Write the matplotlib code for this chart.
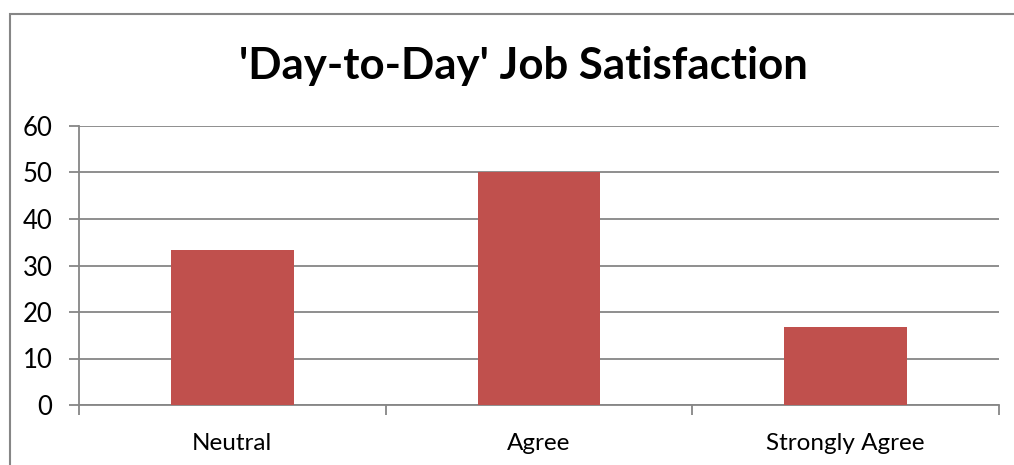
import matplotlib
matplotlib.use('Agg')
import matplotlib.pyplot as plt
from matplotlib.patches import Rectangle
import numpy as np

categories = ['Neutral', 'Agree', 'Strongly Agree']
values = [33.3, 50.0, 16.7]
yticks = [0, 10, 20, 30, 40, 50, 60]

plt.rcParams['font.family'] = ['Lato', 'DejaVu Sans']

W, H = 1014, 465
fig = plt.figure(figsize=(W / 100, H / 100), dpi=100)
fig.patch.set_facecolor('white')

# chart area frame (runs off the right and bottom edge)
frame = Rectangle((10 / W, -0.1), 1.2, 1 - 14 / H + 0.1, transform=fig.transFigure,
                  fill=False, edgecolor='#868686', linewidth=1.5, zorder=0)
fig.patches.append(frame)

ax = fig.add_axes([79 / W, 1 - 405 / H, (999 - 79) / W, (405 - 126) / H])
x = np.arange(len(categories))
ax.bar(x, values, width=0.4, color='#C0504D', zorder=3)

ax.set_xlim(-0.5, len(categories) - 0.5)
ax.set_ylim(0, 60)
ax.set_yticks(yticks)
ax.set_yticklabels([str(v) for v in yticks], fontsize=18.5)
ax.yaxis.grid(True, color='#868686', linewidth=1.3, zorder=0)
ax.set_axisbelow(True)

# category boundaries carry the tick marks, labels sit in between
ax.set_xticks(np.arange(len(categories) + 1) - 0.5)
ax.set_xticklabels([])
ax.set_xticks(x, minor=True)
ax.set_xticklabels(categories, minor=True, fontsize=17.5)
ax.tick_params(axis='x', which='minor', length=0, pad=20)
ax.tick_params(axis='x', which='major', length=7, width=1.3, color='#868686', direction='out')
ax.tick_params(axis='y', length=7, width=1.3, color='#868686', direction='out', pad=12)

for s in ['top', 'right']:
    ax.spines[s].set_visible(False)
for s in ['left', 'bottom']:
    ax.spines[s].set_color('#868686')
    ax.spines[s].set_linewidth(1.3)

fig.text(523 / W, 1 - 66 / H, "'Day-to-Day' Job Satisfaction", ha='center', va='center',
         fontsize=31.5, fontweight='bold')

fig.savefig('out.png', dpi=100)
